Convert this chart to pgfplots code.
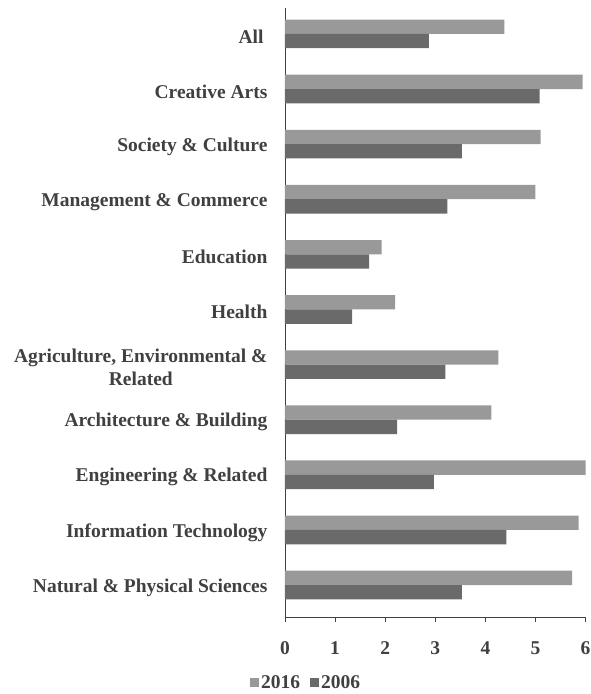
\documentclass[border=0pt]{standalone}
\usepackage{pgfplots}
\pgfplotsset{compat=1.18}
\usepackage{fontspec}
\setmainfont{Liberation Serif}
\definecolor{lightbar}{RGB}{153,153,153}
\definecolor{darkbar}{RGB}{106,106,106}
\definecolor{txt}{RGB}{64,64,64}
\begin{document}
\begin{tikzpicture}
\useasboundingbox (-285pt,-77pt) rectangle (305pt,617pt);
\begin{axis}[
  at={(0,0)}, anchor=south west,
  scale only axis, width=300.6pt, height=609pt,
  xbar, bar width=0.26,
  y dir=reverse,
  xmin=0, xmax=6, ymin=-0.47, ymax=10.58,
  axis x line=bottom, axis y line=left,
  axis line style={-, draw=txt, line width=0.9pt},
  xtick={0,1,2,3,4,5,6},
  ytick={0,1,2,3,4,5,6,7,8,9,10},
  yticklabels={All\hspace{4pt},Creative Arts,Society \& Culture,Management \& Commerce,Education,Health,{Agriculture, Environmental \&\\Related},Architecture \& Building,Engineering \& Related,Information Technology,Natural \& Physical Sciences},
  y tick label style={align=center, font=\fontsize{19.5}{23}\selectfont\bfseries, text=txt, xshift=-9pt, yshift=-2.5pt},
  x tick label style={font=\fontsize{19.5}{21}\selectfont\bfseries, text=txt, yshift=-16pt},
  /pgf/number format/assume math mode=true,
  ytick style={draw=none},
  xtick style={draw=txt, line width=0.8pt},
  tick align=outside, major tick length=5pt,
  legend style={at={(0.07,-0.108)}, anchor=center, draw=none, fill=none,
    legend columns=2, font=\fontsize{19.5}{21}\selectfont\bfseries, text=txt,
    /tikz/every even column/.append style={column sep=8pt}},
  legend image code/.code={\fill[#1] (0pt,-4pt) rectangle (9pt,5pt);},
]
\addplot[draw=none, fill=lightbar, bar shift=-0.13] coordinates {
(4.38,0) (5.94,1) (5.10,2) (5.00,3) (1.93,4) (2.20,5) (4.26,6) (4.12,7) (6.02,8) (5.86,9) (5.73,10)};
\addlegendentry{2016}
\addplot[draw=none, fill=darkbar, bar shift=0.13] coordinates {
(2.87,0) (5.08,1) (3.53,2) (3.24,3) (1.68,4) (1.34,5) (3.20,6) (2.24,7) (2.97,8) (4.42,9) (3.53,10)};
\addlegendentry{2006}
\end{axis}
\end{tikzpicture}
\end{document}
